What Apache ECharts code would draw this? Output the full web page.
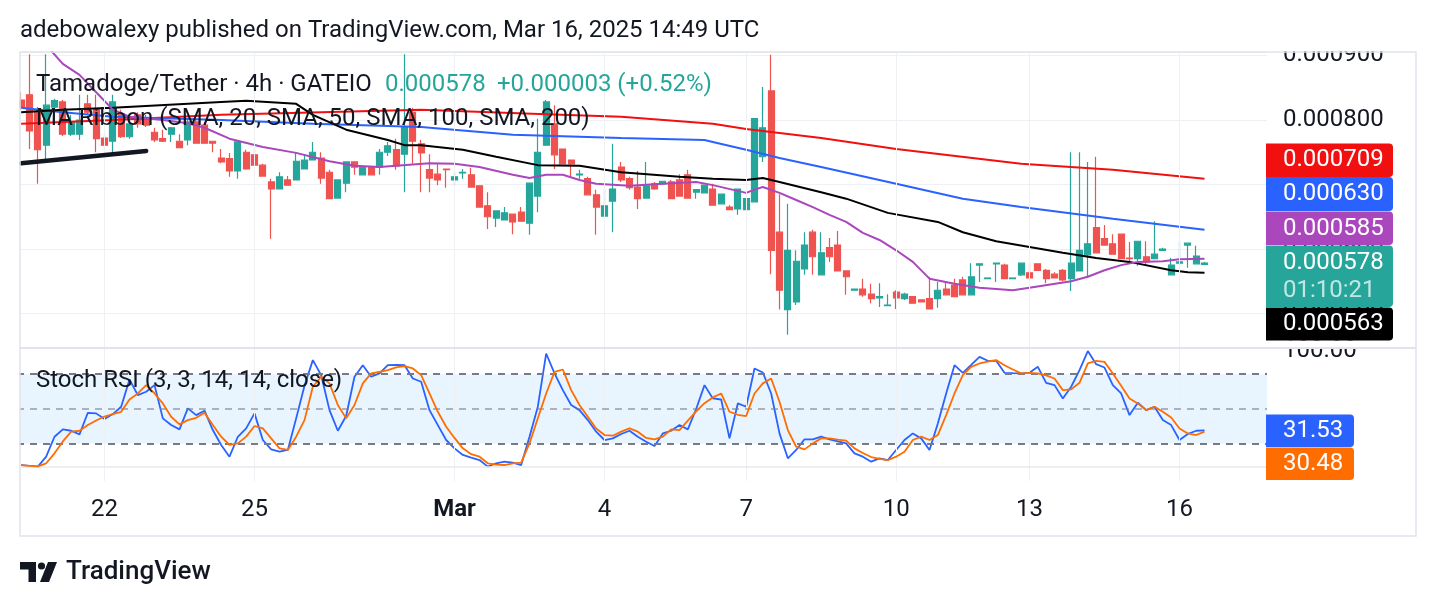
<!DOCTYPE html>
<html><head><meta charset="utf-8">
<script src="https://cdn.jsdelivr.net/npm/echarts@6/dist/echarts.min.js"></script>
<style>html,body{margin:0;padding:0;background:#fff;}#c{width:1436px;height:606px;}</style>
</head><body><div id="c"></div>
<script>
// ---- x axis (4h bars, category slots) ----
const slotCount = 150; // 143 bars + empty space on the right
const dayTickIndex = [10, 28, 52, 70, 87, 105, 121, 139];
const dayTickText = ['22', '25', 'Mar', '4', '7', '10', '13', '16'];

// ---- price candles (Tamadoge/Tether 4h) ----
const openP = [0.000831,0.000839,0.000812,0.000761,0.000820,0.000828,0.000778,0.000778,0.000825,0.000817,
0.000772,0.000767,0.000809,0.000774,0.000808,0.000803,0.000781,0.000771,0.000778,0.000767,
0.000769,0.000797,0.000792,0.000767,0.000741,0.000740,0.000721,0.000750,0.000746,0.000730,
0.000704,0.000693,0.000707,0.000707,0.000724,0.000738,0.000741,0.000719,0.000679,0.000702,
0.000735,0.000715,0.000727,0.000727,0.000750,0.000754,0.000747,0.000812,0.000763,0.000723,
0.000716,0.000724,0.000707,0.000718,0.000715,0.000698,0.000667,0.000648,0.000645,0.000654,
0.000657,0.000640,0.000682,0.000761,0.000794,0.000755,0.000738,0.000715,0.000709,0.000684,
0.000651,0.000674,0.000727,0.000709,0.000696,0.000679,0.000701,0.000701,0.000704,0.000707,
0.000715,0.000688,0.000687,0.000693,0.000670,0.000665,0.000662,0.000661,0.000673,0.000743,
0.000845,0.000626,0.000506,0.000518,0.000569,0.000626,0.000560,0.000602,0.000606,0.000566,
0.000536,0.000538,0.000530,0.000524,0.000512,0.000533,0.000523,0.000526,0.000521,0.000523,
0.000523,0.000538,0.000544,0.000552,0.000529,0.000575,0.000554,0.000577,0.000575,0.000554,
0.000560,0.000563,0.000577,0.000567,0.000561,0.000567,0.000554,0.000566,0.000591,0.000633,
0.000616,0.000608,0.000623,0.000586,0.000585,0.000588,0.000585,0.000598,0.000560,0.000578,
0.000606,0.000577,0.000576];
const closeP = [0.000820,0.000783,0.000754,0.000823,0.000830,0.000778,0.000797,0.000800,0.000812,0.000771,
0.000761,0.000828,0.000774,0.000794,0.000794,0.000792,0.000769,0.000767,0.000788,0.000757,
0.000797,0.000764,0.000764,0.000764,0.000735,0.000721,0.000766,0.000724,0.000730,0.000713,
0.000693,0.000712,0.000699,0.000736,0.000738,0.000750,0.000710,0.000678,0.000707,0.000735,
0.000727,0.000727,0.000715,0.000750,0.000760,0.000729,0.000789,0.000767,0.000749,0.000710,
0.000707,0.000723,0.000712,0.000719,0.000696,0.000665,0.000650,0.000659,0.000656,0.000642,
0.000643,0.000702,0.000750,0.000828,0.000746,0.000732,0.000732,0.000716,0.000684,0.000665,
0.000667,0.000693,0.000707,0.000695,0.000678,0.000698,0.000693,0.000705,0.000678,0.000682,
0.000679,0.000692,0.000699,0.000668,0.000685,0.000661,0.000693,0.000678,0.000802,0.000788,
0.000598,0.000536,0.000598,0.000581,0.000606,0.000588,0.000594,0.000588,0.000566,0.000557,
0.000538,0.000529,0.000523,0.000526,0.000513,0.000524,0.000530,0.000516,0.000518,0.000507,
0.000536,0.000529,0.000526,0.000529,0.000557,0.000577,0.000555,0.000578,0.000554,0.000555,
0.000578,0.000555,0.000567,0.000554,0.000555,0.000552,0.000578,0.000598,0.000608,0.000594,
0.000606,0.000592,0.000585,0.000585,0.000612,0.000580,0.000592,0.000600,0.000575,0.000580,
0.000609,0.000589,0.000578];
const lowP = [0.000816,0.000755,0.000701,0.000735,0.000816,0.000775,0.000775,0.000769,0.000808,0.000750,
0.000760,0.000750,0.000772,0.000771,0.000788,0.000789,0.000766,0.000766,0.000766,0.000757,
0.000761,0.000763,0.000763,0.000750,0.000733,0.000712,0.000709,0.000723,0.000729,0.000713,
0.000616,0.000693,0.000699,0.000707,0.000724,0.000738,0.000701,0.000678,0.000679,0.000688,
0.000715,0.000715,0.000715,0.000715,0.000744,0.000723,0.000688,0.000732,0.000688,0.000688,
0.000699,0.000695,0.000698,0.000709,0.000696,0.000665,0.000631,0.000634,0.000645,0.000623,
0.000643,0.000622,0.000657,0.000761,0.000724,0.000732,0.000710,0.000709,0.000684,0.000622,
0.000651,0.000626,0.000704,0.000692,0.000662,0.000679,0.000692,0.000701,0.000678,0.000681,
0.000679,0.000678,0.000687,0.000668,0.000670,0.000661,0.000653,0.000661,0.000673,0.000735,
0.000561,0.000506,0.000467,0.000513,0.000560,0.000560,0.000560,0.000580,0.000566,0.000529,
0.000536,0.000526,0.000516,0.000510,0.000512,0.000507,0.000521,0.000515,0.000518,0.000507,
0.000509,0.000529,0.000526,0.000529,0.000529,0.000549,0.000554,0.000549,0.000554,0.000554,
0.000558,0.000555,0.000567,0.000547,0.000555,0.000550,0.000535,0.000566,0.000557,0.000594,
0.000606,0.000592,0.000585,0.000577,0.000574,0.000575,0.000585,0.000598,0.000560,0.000578,
0.000571,0.000577,0.000575];
const highP = [0.000843,0.000902,0.000820,0.000902,0.000833,0.000831,0.000808,0.000839,0.000839,0.000839,
0.000777,0.000839,0.000816,0.000800,0.000812,0.000808,0.000788,0.000785,0.000789,0.000778,
0.000802,0.000803,0.000797,0.000767,0.000755,0.000749,0.000766,0.000754,0.000757,0.000732,
0.000709,0.000719,0.000713,0.000750,0.000747,0.000766,0.000750,0.000723,0.000707,0.000735,
0.000735,0.000727,0.000727,0.000755,0.000766,0.000771,0.000902,0.000819,0.000769,0.000747,
0.000732,0.000724,0.000719,0.000724,0.000726,0.000698,0.000688,0.000659,0.000665,0.000654,
0.000665,0.000702,0.000802,0.000831,0.000823,0.000755,0.000738,0.000723,0.000712,0.000692,
0.000693,0.000763,0.000735,0.000712,0.000721,0.000735,0.000704,0.000705,0.000707,0.000716,
0.000723,0.000692,0.000699,0.000701,0.000685,0.000668,0.000693,0.000678,0.000802,0.000851,
0.000901,0.000685,0.000670,0.000598,0.000626,0.000630,0.000626,0.000617,0.000628,0.000567,
0.000538,0.000554,0.000546,0.000547,0.000530,0.000536,0.000532,0.000527,0.000521,0.000557,
0.000549,0.000549,0.000554,0.000557,0.000578,0.000577,0.000555,0.000578,0.000577,0.000555,
0.000578,0.000578,0.000577,0.000569,0.000564,0.000569,0.000750,0.000750,0.000735,0.000743,
0.000637,0.000623,0.000623,0.000611,0.000612,0.000612,0.000643,0.000602,0.000586,0.000612,
0.000609,0.000605,0.000580];

// ---- MA Ribbon (as [bar index, value]) ----
const sma20 = [[3,0.000916],[5,0.000887],[7,0.000870],[9,0.000843],[11,0.000816],[13,0.000805],[17,0.000800],[20,0.000795],[22,0.000788],[25,0.000771],[29,0.000758],[33,0.000749],[37,0.000736],[40,0.000729],[43,0.000727],[45,0.000729],[49,0.000733],[52,0.000732],[55,0.000727],[59,0.000715],[61,0.000710],[63,0.000715],[65,0.000715],[67,0.000707],[69,0.000701],[73,0.000698],[77,0.000701],[81,0.000704],[83,0.000699],[87,0.000687],[88,0.000692],[89,0.000696],[91,0.000687],[93,0.000676],[95,0.000665],[97,0.000653],[99,0.000642],[101,0.000625],[103,0.000614],[105,0.000598],[107,0.000580],[109,0.000554],[112,0.000546],[115,0.000540],[119,0.000536],[121,0.000540],[126,0.000550],[128,0.000557],[130,0.000567],[132,0.000575],[134,0.000580],[137,0.000581],[139,0.000584],[142,0.000585]];
const sma50 = [[0,0.000812],[5,0.000816],[11,0.000819],[24,0.000828],[27,0.000830],[33,0.000825],[35,0.000808],[39,0.000785],[44,0.000769],[46,0.000761],[48,0.000761],[53,0.000754],[57,0.000743],[62,0.000730],[67,0.000729],[72,0.000719],[79,0.000712],[83,0.000709],[87,0.000707],[89,0.000710],[91,0.000704],[96,0.000688],[99,0.000678],[104,0.000656],[110,0.000642],[113,0.000626],[117,0.000612],[121,0.000603],[125,0.000594],[129,0.000586],[133,0.000580],[138,0.000567],[140,0.000564],[142,0.000563]];
const sma100 = [[0,0.000819],[5,0.000812],[11,0.000805],[24,0.000800],[35,0.000794],[48,0.000789],[59,0.000777],[72,0.000772],[82,0.000769],[83,0.000766],[87,0.000754],[91,0.000741],[96,0.000727],[105,0.000701],[113,0.000678],[120,0.000665],[131,0.000647],[142,0.000630]];
const sma200 = [[0,0.000794],[11,0.000800],[24,0.000808],[48,0.000816],[63,0.000809],[72,0.000805],[83,0.000794],[87,0.000786],[96,0.000772],[105,0.000755],[120,0.000732],[131,0.000723],[142,0.000709]];
const trendLine = [[0,0.000733],[15,0.000752]];
const lastPrice = 0.000578;
const countdown = '01:10:21';

// ---- Stoch RSI (3, 3, 14, 14) ----
const stochK = [1.6,0.8,0.2,8.8,26,32.4,31.2,28.1,46.7,46.2,41.3,45.6,51.9,75.5,62,64.9,70.6,41.9,36.1,32.4,
50.5,44.7,48.5,31.8,18.9,8.8,26,33.2,46.2,23.2,15.1,13.1,14.6,41.9,70,92.2,79.2,49,31.2,43.9,
77.8,87.8,77.8,80.7,87.8,88,87.8,76.3,73.5,49,36.1,23.2,16,10.3,8,5.9,0.2,3.1,4.5,3.6,
1.6,26,52,97.9,80.7,66.3,53.4,49,40.4,30.4,23.2,24.6,28.4,31.2,26,21.7,18,28.9,31.2,36.1,
32.4,50,70.6,59.1,58.2,24.6,54.8,51.9,85,81.5,63.4,28.9,7.4,14.6,23.8,23.8,26.1,23.8,22,20.3,
11.7,8.8,4.5,7.4,5.9,14.6,23.2,28.9,24.6,14.6,37.5,63.4,87.8,81.2,88,95,91.6,91.6,81.2,80.9,
80.7,81.2,86.4,72.6,70.6,59.1,69.2,83.5,100,88.7,85.8,70.6,63.4,44.7,55.4,49,51.9,40.4,36.1,23.2,
28.4,31.2,31.53];
const stochD = [1.6,0.8,0.5,3.1,11.7,22,30.4,31.2,36.1,40,43.5,45.6,47.6,58.2,63.4,70.6,63.4,54.8,43.3,36.7,
40.4,42.4,46.7,36.1,26.1,18.9,20.3,26.1,35.3,33.2,24.6,16,14.6,26.1,40.4,69.2,77.8,72.1,53.4,41.9,
53.4,72.1,80.7,82.1,83.5,86,87,85,79.2,63.4,47.6,34.7,25,16,11,8.8,3.1,2,1.6,3.1,
3.6,20.3,42,63.4,82.1,84.1,66.3,53.4,43.3,33.2,27.5,26.9,30.4,33.2,30.4,25,23.8,26.1,32.4,31.8,
40,48,55,60,63.4,47.6,45,43.9,63.4,72.1,76.3,56.3,31.8,17.4,15.1,20.3,24.6,24.6,23.5,22.6,
16,12,8.5,7,5.9,8.8,13.1,23.2,26.1,23.2,27.5,44.7,63.4,79.2,86.4,89.3,91,92.2,87.8,84.1,
80.7,81.2,80.7,79,76.3,66.3,66.9,72.6,89.3,91.6,90.7,80.7,70,59.1,54.8,49,51.9,47.6,42.7,33.2,
28.9,27.5,30.48];
const stochLevels = [80, 50, 20];

// ---------------------------------------------------------------
const FONT = 'Roboto, "Noto Sans", Arial, sans-serif';
const FS = 24;
const TXT = '#131722';
const UP = '#26a69a', DOWN = '#ef5350';
const C20 = '#ab47bc', C50 = '#000000', C100 = '#2962ff', C200 = '#f20f0f';
const CK = '#2962ff', CD = '#ff6d00';
const GRIDC = '#eef0f4';

const slots = Array.from({length: slotCount}, (_, k) => String(k));
const candles = openP.map((o, k) => [o, closeP[k], lowP[k], highP[k]]);
const dayLines = dayTickIndex.map(i => ({xAxis: String(i)}));
const labelOf = {};
dayTickIndex.forEach((i, k) => { labelOf[i] = dayTickText[k]; });

const chart = echarts.init(document.getElementById('c'), null, {renderer: 'canvas'});

function txt(text, x, y, opts) {
  opts = opts || {};
  return {type: 'text', z: 200, silent: true, style: Object.assign({
    text: text, x: x, y: y, fill: TXT, fontSize: FS, fontFamily: FONT,
    align: 'left', verticalAlign: 'middle', textAlign: 'left', textVerticalAlign: 'middle'
  }, opts)};
}
function box(x, y, w, h, color, lines) {
  const children = [{type: 'rect', shape: {x: x, y: y, width: w, height: h, r: [0, 4, 4, 0]}, style: {fill: color}, z: 210}];
  lines.forEach(l => children.push(Object.assign(txt(l.t, 1283, l.y, {fill: l.c || '#ffffff'}), {z: 211})));
  return children;
}
const last = a => a[a.length - 1][1];

const graphics = [
  // white covers for clipped parts
  {type: 'rect', z: 150, silent: true, shape: {x: 0, y: 40, width: 19.5, height: 500}, style: {fill: '#fff'}},
  {type: 'rect', z: 150, silent: true, shape: {x: 1268, y: 34, width: 160, height: 17}, style: {fill: '#fff'}},
  {type: 'rect', z: 150, silent: true, shape: {x: 1268, y: 340.5, width: 148, height: 7.5}, style: {fill: '#fff'}},
  // frame and pane separator
  {type: 'rect', z: 160, silent: true, shape: {x: 20, y: 52, width: 1396, height: 484}, style: {fill: 'none', stroke: '#e0e3eb', lineWidth: 1.5}},
  {type: 'line', z: 160, silent: true, shape: {x1: 20, y1: 348, x2: 1416, y2: 348}, style: {stroke: '#e0e3eb', lineWidth: 2}},
  // title
  txt('adebowalexy published on TradingView.com, Mar 16, 2025 14:49 UTC', 20, 31),
  // legends
  txt('Tamadoge/Tether · 4h · GATEIO', 36, 85),
  txt(lastPrice.toFixed(6), 385, 85, {fill: UP}),
  txt('+0.000003 (+0.52%)', 497, 85, {fill: UP}),
  txt('MA Ribbon (SMA, 20, SMA, 50, SMA, 100, SMA, 200)', 36, 119),
  txt('Stoch RSI (3, 3, 14, 14, close)', 36, 381),
  // TradingView logo
  {type: 'polygon', z: 200, silent: true, shape: {points: [[20,562],[36,562],[36,582],[28.5,582],[28.5,569.5],[20,569.5]]}, style: {fill: TXT}},
  {type: 'circle', z: 200, silent: true, shape: {cx: 41.5, cy: 566, r: 3.6}, style: {fill: TXT}},
  {type: 'polygon', z: 200, silent: true, shape: {points: [[48,562],[57,562],[49,582],[40,582]]}, style: {fill: TXT}},
  txt('TradingView', 66, 572, {fontSize: 26, fontWeight: 500})
].concat(
  box(1266, 143.5, 127, 33.5, C200, [{t: last(sma200).toFixed(6), y: 160}]),
  box(1266, 177, 127, 34, C100, [{t: last(sma100).toFixed(6), y: 194}]),
  box(1266, 211.5, 127, 33.5, C20, [{t: last(sma20).toFixed(6), y: 228.5}]),
  box(1266, 245.5, 127, 61.5, UP, [{t: lastPrice.toFixed(6), y: 263}, {t: countdown, y: 291, c: 'rgba(255,255,255,0.72)'}]),
  box(1266, 307.5, 127, 33, C50, [{t: last(sma50).toFixed(6), y: 324}]),
  box(1266, 414.5, 88, 32.5, CK, [{t: stochK[stochK.length - 1].toFixed(2), y: 431}]),
  box(1266, 447.5, 88, 32.5, CD, [{t: stochD[stochD.length - 1].toFixed(2), y: 464}])
);

const option = {
  animation: false,
  backgroundColor: '#ffffff',
  textStyle: {fontFamily: FONT},
  grid: [
    {left: 17, width: 1250, top: 52, height: 296},
    {left: 17, width: 1250, top: 349, height: 132}
  ],
  xAxis: [
    {type: 'category', gridIndex: 0, data: slots, boundaryGap: true,
     axisLine: {show: false}, axisTick: {show: false}, axisLabel: {show: false}, splitLine: {show: false}},
    {type: 'category', gridIndex: 1, data: slots, boundaryGap: true,
     axisLine: {show: false}, axisTick: {show: false}, splitLine: {show: false},
     axisLabel: {show: true, interval: 0, margin: 17, color: TXT, fontSize: FS, fontFamily: FONT,
       formatter: (v, idx) => {
         const t = labelOf[idx];
         if (!t) return '';
         return t === 'Mar' ? '{b|Mar}' : t;
       },
       rich: {b: {fontWeight: 'bold', fontSize: FS, fontFamily: FONT, color: TXT}}}}
  ],
  yAxis: [
    {type: 'value', gridIndex: 0, position: 'right', min: 0.0004465, max: 0.0009054,
     axisLine: {show: false}, axisTick: {show: false},
     splitLine: {show: true, lineStyle: {color: GRIDC, width: 1}},
     axisLabel: {margin: 16, color: TXT, fontSize: FS, fontFamily: FONT,
       formatter: v => (Math.abs(v * 1e4 - Math.round(v * 1e4)) < 1e-6) ? v.toFixed(6) : ''}},
    {type: 'value', gridIndex: 1, position: 'right', min: -12.2, max: 101.8,
     axisLine: {show: false}, axisTick: {show: false}, splitLine: {show: false},
     axisLabel: {margin: 16, color: TXT, fontSize: FS, fontFamily: FONT,
       formatter: v => (Math.abs(v - 100) < 1e-9) ? '100.00' : ''}}
  ],
  series: [
    {type: 'candlestick', name: 'Tamadoge/Tether', xAxisIndex: 0, yAxisIndex: 0, data: candles,
     barWidth: 6.5, z: 2,
     itemStyle: {color: UP, color0: DOWN, borderColor: UP, borderColor0: DOWN, borderWidth: 1.2},
     markLine: {silent: true, symbol: ['none', 'none'], label: {show: false}, animation: false,
       lineStyle: {color: GRIDC, width: 1, type: 'solid'},
       data: dayLines.concat([{yAxis: lastPrice, lineStyle: {color: UP, width: 2, type: [2, 4.5]}}])}},
    {type: 'line', name: 'SMA 200', xAxisIndex: 0, yAxisIndex: 0, data: sma200, showSymbol: false, z: 4,
     lineStyle: {color: C200, width: 2}},
    {type: 'line', name: 'SMA 100', xAxisIndex: 0, yAxisIndex: 0, data: sma100, showSymbol: false, z: 4,
     lineStyle: {color: C100, width: 2}},
    {type: 'line', name: 'SMA 50', xAxisIndex: 0, yAxisIndex: 0, data: sma50, showSymbol: false, z: 4,
     lineStyle: {color: C50, width: 2}},
    {type: 'line', name: 'SMA 20', xAxisIndex: 0, yAxisIndex: 0, data: sma20, showSymbol: false, z: 4,
     lineStyle: {color: C20, width: 2}},
    {type: 'line', name: 'trend', xAxisIndex: 0, yAxisIndex: 0, data: trendLine, showSymbol: false, z: 5,
     lineStyle: {color: TXT, width: 4.5, cap: 'round'}},
    {type: 'line', name: 'K', xAxisIndex: 1, yAxisIndex: 1, data: stochK, showSymbol: false, z: 4,
     lineStyle: {color: CK, width: 1.8},
     markArea: {silent: true, itemStyle: {color: 'rgba(33,150,243,0.1)'}, data: [[{yAxis: stochLevels[2]}, {yAxis: stochLevels[0]}]]},
     markLine: {silent: true, symbol: ['none', 'none'], label: {show: false}, animation: false,
       lineStyle: {color: GRIDC, width: 1, type: 'solid'},
       data: dayLines.concat([
         {yAxis: 0, lineStyle: {color: '#e6e8ee', width: 1.5, type: 'solid'}},
         {yAxis: stochLevels[0], lineStyle: {color: '#787b86', width: 2, type: [7, 6]}},
         {yAxis: stochLevels[1], lineStyle: {color: 'rgba(120,123,134,0.55)', width: 2, type: [7, 6]}},
         {yAxis: stochLevels[2], lineStyle: {color: '#787b86', width: 2, type: [7, 6]}}
       ])}},
    {type: 'line', name: 'D', xAxisIndex: 1, yAxisIndex: 1, data: stochD, showSymbol: false, z: 5,
     lineStyle: {color: CD, width: 1.8}}
  ],
  graphic: graphics
};
chart.setOption(option);
</script></body></html>
